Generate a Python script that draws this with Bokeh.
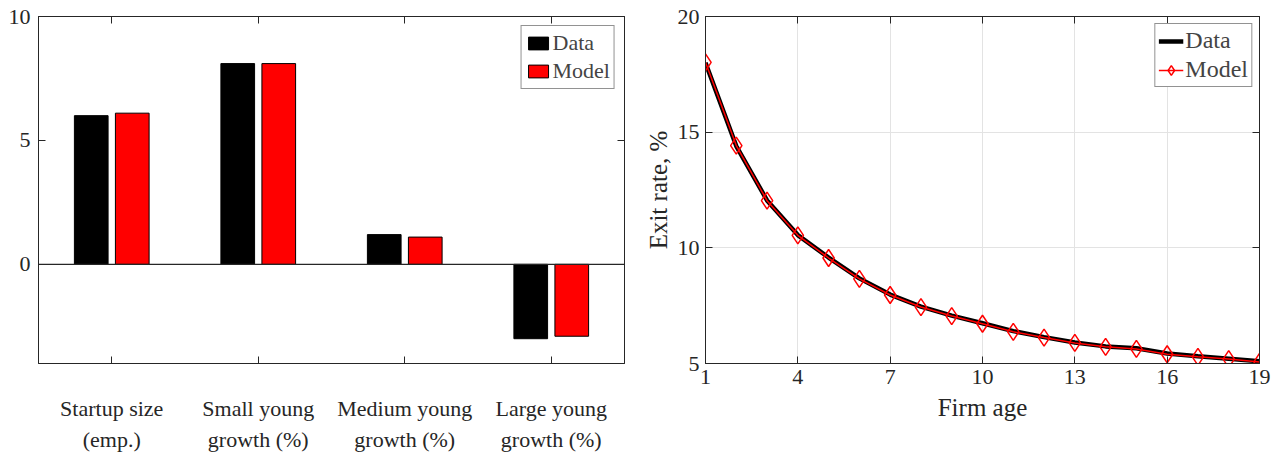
from bokeh.plotting import figure
from bokeh.models import (ColumnDataSource, FixedTicker, LinearAxis, Range1d, Span, Legend, LegendItem)
from bokeh.layouts import row
from bokeh.transform import dodge
from bokeh.embed import file_html
from bokeh.resources import INLINE

# ---------------- data ----------------
categories_line1 = ["Startup size", "Small young", "Medium young", "Large young"]
categories_line2 = ["(emp.)", "growth (%)", "growth (%)", "growth (%)"]
cat_pos = [1, 2, 3, 4]
bar_data = [6.0, 8.1, 1.2, -3.0]
bar_model = [6.1, 8.1, 1.1, -2.9]
left_yticks = [0, 5, 10]

ages = list(range(1, 20))
exit_data = [18.0, 14.4, 12.05, 10.55, 9.58, 8.68, 7.98, 7.46, 7.07, 6.74,
             6.40, 6.14, 5.91, 5.74, 5.66, 5.43, 5.31, 5.21, 5.10]
exit_model = [18.02, 14.42, 12.04, 10.54, 9.56, 8.66, 7.96, 7.44, 7.05, 6.72,
              6.37, 6.12, 5.89, 5.72, 5.63, 5.40, 5.29, 5.19, 5.07]
right_xticks = [1, 4, 7, 10, 13, 16, 19]
right_yticks = [5, 10, 15, 20]

FONT = "Liberation Serif"
AX = "#262626"
TICK_FS = "22px"


def style_axis(ax, labels=True):
    ax.axis_line_color = AX
    ax.major_tick_line_color = AX
    ax.major_tick_in = 7
    ax.major_tick_out = 0
    ax.minor_tick_line_color = None
    ax.major_label_text_font = FONT
    ax.major_label_text_font_size = TICK_FS
    ax.major_label_text_color = "#262626"
    ax.axis_label_text_font = FONT
    ax.axis_label_text_font_style = "normal"
    ax.axis_label_text_font_size = "25px"
    ax.axis_label_text_color = "#262626"
    if not labels:
        ax.major_label_overrides = {t: "" for t in ax.ticker.ticks}
        ax.major_label_standoff = 0


# ---------------- left: bar chart ----------------
src = ColumnDataSource(dict(x=cat_pos, data=bar_data, model=bar_model))
p1 = figure(width=640, height=455, output_backend="svg", toolbar_location=None,
            x_range=Range1d(0.5, 4.5), y_range=Range1d(-4, 10),
            min_border_left=38, min_border_right=16, min_border_top=16,
            min_border_bottom=92, x_axis_location="below")
p1.xgrid.visible = False
p1.ygrid.visible = False
p1.outline_line_color = AX
p1.background_fill_color = "white"
p1.border_fill_color = "white"

r_d = p1.vbar(x=dodge("x", -0.14), top="data", bottom=0, width=0.23, source=src,
              fill_color="black", line_color="black", line_width=1)
r_m = p1.vbar(x=dodge("x", 0.14), top="model", bottom=0, width=0.23, source=src,
              fill_color="#ff0000", line_color="black", line_width=1)
p1.add_layout(Span(location=0, dimension="width", line_color=AX, line_width=1.2))

xa = p1.xaxis[0]
xa.ticker = FixedTicker(ticks=cat_pos)
style_axis(xa)
xa.major_label_overrides = {c: lab for c, lab in zip(cat_pos, categories_line1)}
xa.major_label_standoff = 32
xa.major_label_text_font_size = "22px"

xb = LinearAxis(ticker=FixedTicker(ticks=cat_pos))
style_axis(xb)
xb.major_label_overrides = {c: lab for c, lab in zip(cat_pos, categories_line2)}
xb.major_label_standoff = 3
xb.major_label_text_font_size = "22px"
xb.axis_line_color = None
xb.major_tick_line_color = None
p1.add_layout(xb, "below")

ya = p1.yaxis[0]
ya.ticker = FixedTicker(ticks=left_yticks)
style_axis(ya)
ya.major_label_standoff = 8

ax_r = LinearAxis(ticker=FixedTicker(ticks=left_yticks))
style_axis(ax_r, labels=False)
p1.add_layout(ax_r, "right")
ax_t = LinearAxis(ticker=FixedTicker(ticks=cat_pos))
style_axis(ax_t, labels=False)
p1.add_layout(ax_t, "above")

leg1 = Legend(items=[LegendItem(label="Data", renderers=[r_d]),
                     LegendItem(label="Model", renderers=[r_m])],
              location="top_right", margin=9, padding=4, spacing=2,
              glyph_width=25, glyph_height=16, label_standoff=2,
              label_text_font=FONT, label_text_font_size="22px",
              label_height=22, border_line_color=AX, border_line_width=1,
              background_fill_alpha=1)
p1.add_layout(leg1)

# ---------------- right: line chart ----------------
src2 = ColumnDataSource(dict(age=ages, data=exit_data, model=exit_model))
p2 = figure(width=634, height=455, output_backend="svg", toolbar_location=None,
            x_range=Range1d(1, 19), y_range=Range1d(5, 20),
            min_border_left=65, min_border_right=15, min_border_top=16,
            min_border_bottom=92)
p2.outline_line_color = AX
p2.xgrid.grid_line_color = "#e3e3e3"
p2.ygrid.grid_line_color = "#e3e3e3"
p2.xgrid.ticker = FixedTicker(ticks=right_xticks)
p2.ygrid.ticker = FixedTicker(ticks=right_yticks)

l_d = p2.line("age", "data", source=src2, line_color="black", line_width=4.5)
l_m = p2.line("age", "model", source=src2, line_color="#ff0000", line_width=1.5)
s_m = p2.scatter("age", "model", source=src2, marker="diamond", size=17,
                 fill_color=None, line_color="#ff0000", line_width=1.5)

xa2 = p2.xaxis[0]
xa2.ticker = FixedTicker(ticks=right_xticks)
xa2.axis_label = "Firm age"
style_axis(xa2)
xa2.major_label_standoff = 6
xa2.axis_label_standoff = 7
ya2 = p2.yaxis[0]
ya2.ticker = FixedTicker(ticks=right_yticks)
ya2.axis_label = "Exit rate, %"
style_axis(ya2)
ya2.major_label_standoff = 6
ya2.axis_label_standoff = 3

ax_r2 = LinearAxis(ticker=FixedTicker(ticks=right_yticks))
style_axis(ax_r2, labels=False)
p2.add_layout(ax_r2, "right")
ax_t2 = LinearAxis(ticker=FixedTicker(ticks=right_xticks))
style_axis(ax_t2, labels=False)
p2.add_layout(ax_t2, "above")

leg2 = Legend(items=[LegendItem(label="Data", renderers=[l_d]),
                     LegendItem(label="Model", renderers=[l_m, s_m])],
              location="top_right", margin=7, padding=3, spacing=2,
              glyph_width=25, glyph_height=24, label_standoff=2,
              label_text_font=FONT, label_text_font_size="24px",
              label_height=24, border_line_color=AX, border_line_width=1,
              background_fill_alpha=1)
p2.add_layout(leg2)

layout = row(p1, p2)
open("out.html", "w").write(file_html(layout, INLINE))
